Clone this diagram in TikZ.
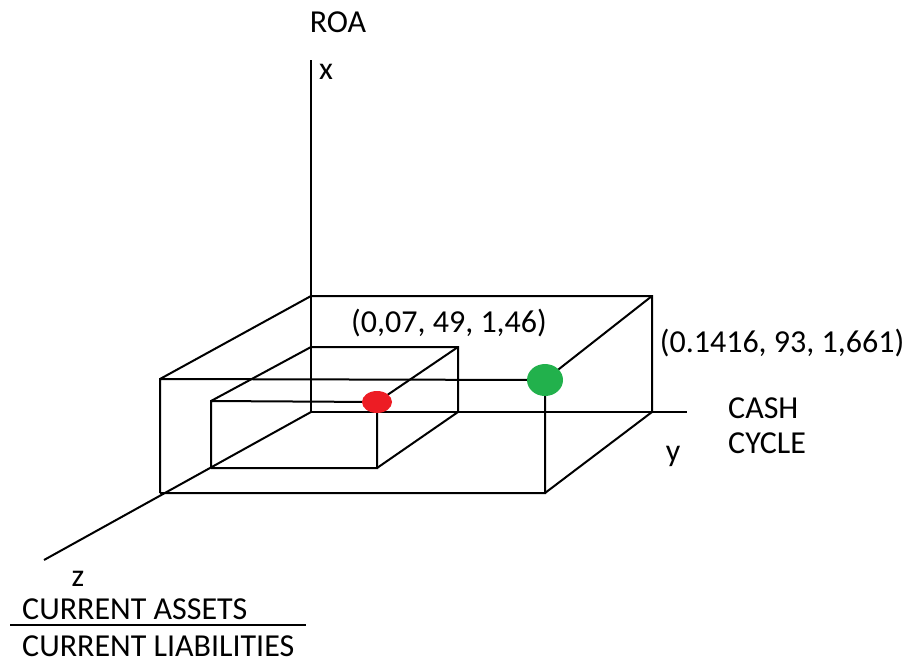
\documentclass[tikz,border=0pt]{standalone}
\usepackage{fontspec}
\setmainfont{Carlito}
\definecolor{dotred}{HTML}{ED1C24}
\definecolor{dotgreen}{HTML}{22B14C}
\tikzset{
  edge/.style={line width=2pt},
  lbl/.style={inner sep=0pt,font=\fontsize{32}{38}\selectfont}
}
\begin{document}
\begin{tikzpicture}[x=1pt,y=-1pt]
	\useasboundingbox (0,0) rectangle (907,662);
	% axes
	\coordinate (O) at (311,412);
	\coordinate (xend) at (311,60);
	\coordinate (yend) at (687,412);
	\coordinate (zend) at (44,560);
	\draw[edge] (xend)--(O)--(yend);
	\draw[edge] (O)--(zend);
	% big box
	\coordinate (A) at (311,296);
	\coordinate (B) at (652,296);
	\coordinate (C) at (652,412);
	\coordinate (D) at (160,379);
	\coordinate (E) at (545,380);
	\coordinate (F) at (545,493);
	\coordinate (G) at (160,493);
	\draw[edge] (D)--(A)--(B)--(C);
	\draw[edge] (G)--(D)--(E)--(F)--(G);
	\draw[edge] (B)--(E);
	\draw[edge] (F)--(C);
	% small box
	\coordinate (a) at (311,347);
	\coordinate (b) at (458,347);
	\coordinate (c) at (458,412);
	\coordinate (d) at (211,401);
	\coordinate (e) at (377,402);
	\coordinate (f) at (377,468);
	\coordinate (g) at (211,468);
	\draw[edge] (d)--(a)--(b)--(c);
	\draw[edge] (g)--(d)--(e)--(f)--(g);
	\draw[edge] (b)--(e);
	\draw[edge] (f)--(c);
	% points
	\fill[dotred] (e) ellipse (15 and 11);
	\fill[dotgreen] (E) ellipse (18 and 16);
	% labels
	\node[lbl] (roa) at (338,22) {ROA};
	\node[lbl] (xlbl) at (326,72) {x};
	\node[lbl] (ylbl) at (673,456) {y};
	\node[lbl] (zlbl) at (78,579) {z};
	\node[lbl,anchor=west] (cash) at (728,408) {CASH};
	\node[lbl,anchor=west] (cycle) at (728,443) {CYCLE};
	\node[lbl] (pred) at (449,323) {(0,07, 49, 1,46)};
	\node[lbl] (pgreen) at (782,343) {(0.1416, 93, 1,661)};
	\node[lbl,anchor=west] (assets) at (22,609) {CURRENT ASSETS};
	\node[lbl,anchor=west] (liab) at (22,646) {CURRENT LIABILITIES};
	\draw[line width=1.6pt] (10,625)--(306,625);
\end{tikzpicture}
\end{document}
